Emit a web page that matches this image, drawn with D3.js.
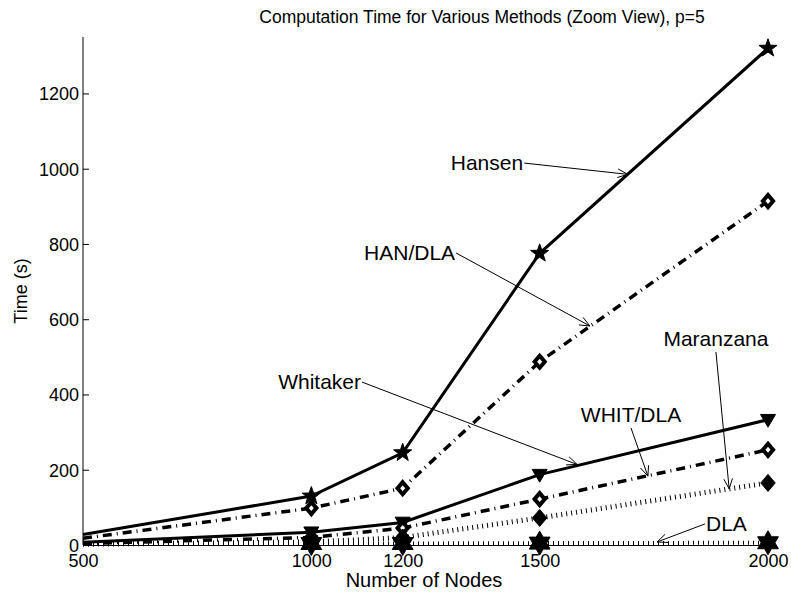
<!DOCTYPE html>
<html>
<head>
<meta charset="utf-8">
<script src="https://cdn.jsdelivr.net/npm/d3@7"></script>
<style>
	body { margin: 0; background: #fff; }
	text { font-family: "Liberation Sans", Arial, sans-serif; fill: #000; }
</style>
</head>
<body>
<div id="container"></div>
<script>
// data
var nodes = [500, 1000, 1200, 1500, 2000];
var hansen = [28, 130, 245, 775, 1320];
var hanDla = [18, 98, 151, 487, 914];
var whitaker = [7, 34, 60, 187, 333];
var whitDla = [4, 20, 45, 122, 253];
var maranzana = [2, 8, 20, 72, 165];
var dla = [3, 4, 4, 5, 6];
var xTicks = [500, 1000, 1200, 1500, 2000];
var yTicks = [0, 200, 400, 600, 800, 1000, 1200];

// labels with arrows: [text, text x, text y, tip x, tip y, text placement]
var notes = [
	['Hansen', 1466, 1015, 1693, 985, 'left'],
	['HAN/DLA', 1317, 776, 1610, 582, 'left'],
	['Whitaker', 1111, 433, 1582, 214, 'left'],
	['WHIT/DLA', 1700, 311, 1737, 183, 'above'],
	['Maranzana', 1886, 513, 1915, 149, 'above'],
	['DLA', 1862, 56, 1757, 8, 'right']
];

var width = 791;
var height = 596;

var svg = d3.select('#container')
	.append('svg')
	.attr('width', width)
	.attr('height', height);

var x = d3.scaleLinear().domain([500, 2000]).range([83, 768]);
var y = d3.scaleLinear().domain([0, 1350]).range([545, 37]);

var star5 = function(r) {
	var pts = [];
	for (var i = 0; i < 10; i++) {
		var a = -Math.PI / 2 + i * Math.PI / 5;
		var rr = i % 2 ? r * 0.4 : r;
		pts.push([rr * Math.cos(a), rr * Math.sin(a)]);
	}
	return 'M' + pts.join('L') + 'Z';
};
var hexagram = function(r) {
	var pts = [];
	for (var i = 0; i < 12; i++) {
		var a = -Math.PI / 2 + i * Math.PI / 6;
		var rr = i % 2 ? r * 0.577 : r;
		pts.push([rr * Math.cos(a), rr * Math.sin(a)]);
	}
	return 'M' + pts.join('L') + 'Z';
};
var triDown = function(r) {
	return 'M' + [[-r, -r * 0.7], [r, -r * 0.7], [0, r]].join('L') + 'Z';
};
var diamond = function(r) {
	return 'M' + [[0, -r], [r * 0.85, 0], [0, r], [-r * 0.85, 0]].join('L') + 'Z';
};

var series = [
	{name: 'Hansen', values: hansen, dash: null, lw: 3, marker: star5(9.5), fill: '#000', mw: 1},
	{name: 'HAN/DLA', values: hanDla, dash: '9,5,1,5', lw: 3.5, marker: diamond(6), fill: '#fff', mw: 4},
	{name: 'Whitaker', values: whitaker, dash: null, lw: 3, marker: triDown(7.5), fill: '#000', mw: 1},
	{name: 'WHIT/DLA', values: whitDla, dash: '9,5,1,5', lw: 3.5, marker: diamond(6), fill: '#fff', mw: 4},
	{name: 'Maranzana', values: maranzana, dash: '1,4', lw: 5, marker: diamond(8.5), fill: '#000', mw: 1},
	{name: 'DLA', values: dla, dash: '1,4', lw: 4, marker: hexagram(12), fill: '#000', mw: 1}
];

// axes
var xAxis = d3.axisBottom(x).tickValues(xTicks).tickFormat(d3.format('d'))
	.tickSizeInner(-6).tickSizeOuter(0).tickPadding(9);
var yAxis = d3.axisLeft(y).tickValues(yTicks).tickFormat(d3.format('d'))
	.tickSizeInner(-6).tickSizeOuter(0).tickPadding(4);

var line = d3.line()
	.x((d) => x(d.x))
	.y((d) => y(d.y));

series.forEach((s) => {
	var pts = nodes.map((n, i) => ({x: n, y: s.values[i]}));
	svg.append('path')
		.attr('d', line(pts))
		.attr('fill', 'none')
		.attr('stroke', '#000')
		.attr('stroke-width', s.lw)
		.attr('stroke-dasharray', s.dash);
	svg.selectAll(null)
		.data(pts.filter((d) => d.x > 500))
		.enter()
		.append('path')
		.attr('transform', (d) => 'translate(' + x(d.x) + ',' + y(d.y) + ')')
		.attr('d', s.marker)
		.attr('fill', s.fill)
		.attr('stroke', '#000')
		.attr('stroke-width', s.mw)
		.attr('stroke-linejoin', 'miter');
});

var gx = svg.append('g').attr('transform', 'translate(0,' + y(0) + ')').call(xAxis);
var gy = svg.append('g').attr('transform', 'translate(' + x(500) + ',0)').call(yAxis);
gy.select('.domain').attr('d', 'M0,' + y(0) + 'V' + y(1350));
[gx, gy].forEach((g) => {
	g.attr('font-size', null).attr('font-family', null);
	g.selectAll('text').style('font-size', '18px');
	g.selectAll('line, path').attr('stroke', '#000');
});
gy.selectAll('text').attr('dy', '0.36em');

// annotations
notes.forEach((n) => {
	var x0 = x(n[1]), y0 = y(n[2]), x1 = x(n[3]), y1 = y(n[4]);
	svg.append('line')
		.attr('x1', x0).attr('y1', y0).attr('x2', x1).attr('y2', y1)
		.attr('stroke', '#000').attr('stroke-width', 1);
	var ang = Math.atan2(y1 - y0, x1 - x0);
	var hl = 11, ha = 0.4;
	svg.append('path')
		.attr('d', 'M' + (x1 - hl * Math.cos(ang - ha)) + ',' + (y1 - hl * Math.sin(ang - ha)) +
			'L' + x1 + ',' + y1 +
			'L' + (x1 - hl * Math.cos(ang + ha)) + ',' + (y1 - hl * Math.sin(ang + ha)))
		.attr('fill', 'none').attr('stroke', '#000').attr('stroke-width', 1);
	var t = svg.append('text').text(n[0]).style('font-size', '21px');
	if (n[5] === 'left') {
		t.attr('x', x0 - 1).attr('y', y0 + 7).attr('text-anchor', 'end');
	} else if (n[5] === 'right') {
		t.attr('x', x0 + 1).attr('y', y0 + 7).attr('text-anchor', 'start');
	} else {
		t.attr('x', x0).attr('y', y0 - 6).attr('text-anchor', 'middle');
	}
});

svg.append('text')
	.attr('x', 482).attr('y', 23)
	.attr('text-anchor', 'middle')
	.style('font-size', '17.5px')
	.text('Computation Time for Various Methods (Zoom View), p=5');

svg.append('text')
	.attr('x', 424).attr('y', 587)
	.attr('text-anchor', 'middle')
	.style('font-size', '20px')
	.text('Number of Nodes');

svg.append('text')
	.attr('transform', 'translate(27,' + y(675) + ') rotate(-90)')
	.attr('text-anchor', 'middle')
	.style('font-size', '18px')
	.text('Time (s)');
</script>
</body>
</html>
